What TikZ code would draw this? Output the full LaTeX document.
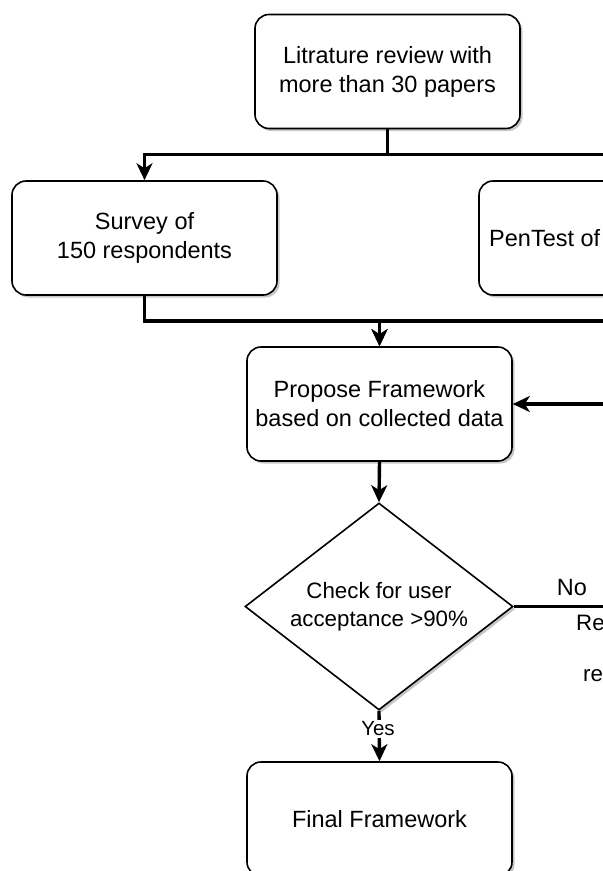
\documentclass[tikz,border=0pt]{standalone}
\usepackage{fontspec}
\setmainfont{Liberation Sans}
\usetikzlibrary{arrows.meta,shapes.geometric,shadows}
\begin{document}
\begin{tikzpicture}[x=1pt,y=-1pt,
  shade box/.style={drop shadow={shadow xshift=2.5pt,shadow yshift=-2.5pt,opacity=0.22,fill=black}},
  stepbox/.style={draw,line width=1.6pt,rounded corners=14pt,fill=white,
    minimum width=265pt,minimum height=114pt,align=center,inner sep=0pt,
    font=\fontsize{23.5}{29}\selectfont,shade box},
  decide/.style={diamond,draw,line width=1.6pt,fill=white,aspect=1.3,
    minimum width=268pt,minimum height=207pt,inner sep=0pt,align=center,
    font=\fontsize{22.3}{28}\selectfont,shade box},
  conn/.style={line width=3.4pt},
  arr/.style={conn,-{Stealth[length=17pt,width=16pt,inset=5pt]}},
  lbl/.style={font=\fontsize{23.5}{28}\selectfont,inner sep=1pt},
  side/.style={font=\fontsize{22.3}{26}\selectfont,inner sep=0pt,anchor=west}
]
\useasboundingbox (0,0) rectangle (603,871);
\clip (0,0) rectangle (603,871);
\fill[white] (0,0) rectangle (603,871);

% process steps
\node[stepbox] (lit) at (387.5,71.5) {Litrature review with\\more than 30 papers};
\node[stepbox] (survey) at (144.5,238) {Survey of\\150 respondents};
\node[stepbox] (pen) at (611.5,238) {};
\node[side] (pentxt) at (489,238) {\fontsize{23.5}{28}\selectfont PenTest of};
\node[stepbox] (prop) at (379.5,404) {Propose Framework\\based on collected data};
\node[decide] (check) at (379,606.5) {Check for user\\acceptance >90\%};
\node[stepbox] (final) at (379.5,819) {Final Framework};

% branches out of the literature review
\draw[arr] (lit.south) -- ++(0,25) -| (survey.north);
\draw[arr] (lit.south) -- ++(0,25) -| (pen.north);

% data collected feeds the proposal
\draw[arr] (survey.south) -- ++(0,25) -| (prop.north);
\draw[arr] (pen.south) -- ++(0,25) -| (prop.north);

% proposal to acceptance check
\draw[arr] (prop.south) -- (check.north);

% rejected: loop back to the proposal
\coordinate (loop) at (660,606.5);
\draw[conn] (check.east) -- (loop);
\draw[arr] (loop) |- (prop.east);
\node[lbl] (no) at (572,588) {No};
\node[side] (rev1) at (576,623) {Re};
\node[side] (rev2) at (583,676) {re};

% accepted
\draw[arr] (check.south) -- (final.north);
\node[lbl,fill=white,inner sep=2pt,font=\fontsize{20.5}{24}\selectfont] (yes) at (378,729) {Yes};
\end{tikzpicture}
\end{document}
